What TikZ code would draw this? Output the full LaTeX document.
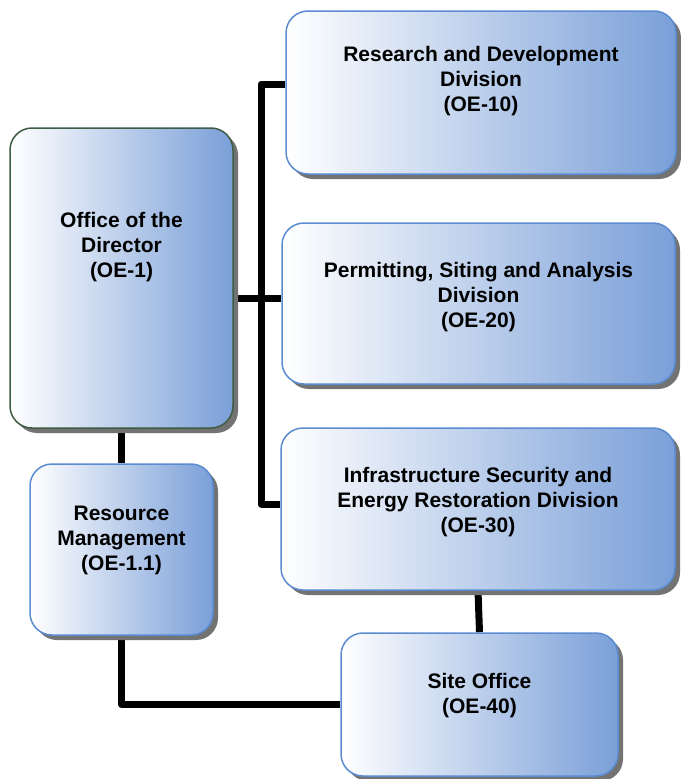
\documentclass[tikz,border=0pt]{standalone}
\usepackage{fontspec}
\setmainfont{Liberation Sans}
\usetikzlibrary{shadows, backgrounds}
\definecolor{boxblue}{RGB}{122,159,216}
\definecolor{boxline}{RGB}{91,139,208}
\definecolor{dirline}{RGB}{62,92,68}

\begin{document}
\begin{tikzpicture}[x=1pt, y=-1pt,
  box/.style={draw=boxline, line width=1.5pt, rounded corners=22pt,
    left color=white, right color=boxblue,
    drop shadow={shadow xshift=5pt, shadow yshift=-5pt, fill=gray!90!black, opacity=1}},
  txt/.style={align=center, font=\fontsize{21}{25}\selectfont\bfseries},
  conn/.style={line width=7pt, line join=round}]
\useasboundingbox (0,0) rectangle (680,779);
\node[box, draw=dirline, minimum width=223pt, minimum height=300pt] (dir) at (121.5,278) {};
\node[box, minimum width=390pt, minimum height=163pt] (rnd) at (481,92.5) {};
\node[box, minimum width=393pt, minimum height=161pt] (psa) at (478.5,303.5) {};
\node[box, minimum width=394pt, minimum height=162pt] (isr) at (478,509) {};
\node[box, minimum width=183pt, minimum height=171pt] (rm) at (121.5,549.5) {};
\node[box, minimum width=277pt, minimum height=143pt] (site) at (479.5,704.5) {};
\node[txt] (dir-t) at ([yshift=31pt]dir.center) {Office of the\\Director\\(OE-1)};
\node[txt] (rnd-t) at ([yshift=11.5pt]rnd.center) {Research and Development\\Division\\(OE-10)};
\node[txt] (psa-t) at ([yshift=6.5pt]psa.center) {Permitting, Siting and Analysis\\Division\\(OE-20)};
\node[txt] (isr-t) at ([yshift=7pt]isr.center) {Infrastructure Security and\\Energy Restoration Division\\(OE-30)};
\node[txt] (rm-t) at ([yshift=9.5pt]rm.center) {Resource\\Management\\(OE-1.1)};
\node[txt] (site-t) at ([yshift=8.5pt]site.center) {Site Office\\(OE-40)};
\coordinate (bustop) at (261,84);
\coordinate (busmid) at (261,298);
\coordinate (busbot) at (261,504);
\begin{scope}[on background layer]
\draw[conn] (bustop -| rnd.west) -- (bustop) -- (busbot) -- (busbot -| isr.west);
\draw[conn] (busmid -| dir.east) -- (busmid -| psa.west);
\draw[conn] (dir.south) -- (rm.north);
\draw[conn] (rm.south) |- (site.west);
\draw[conn] (isr.south) -- (site.north);
\end{scope}
\end{tikzpicture}
\end{document}
